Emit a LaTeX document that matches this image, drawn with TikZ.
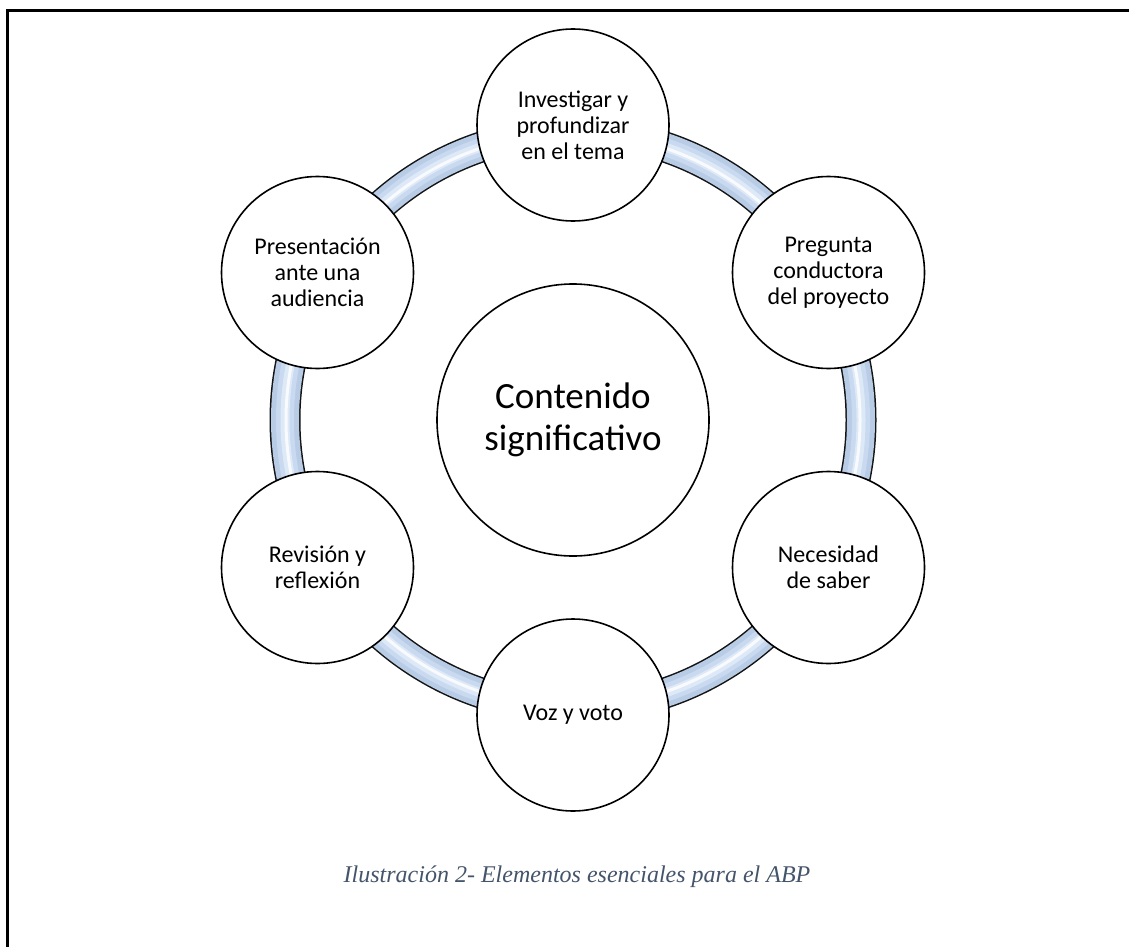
\documentclass[tikz,border=0pt]{standalone}
\usepackage{fontspec}
\setmainfont{Carlito}
\newfontfamily\capfont{Liberation Serif}
\begin{document}
\definecolor{bandedge}{RGB}{20,20,20}
\definecolor{bandA}{RGB}{184,204,230}
\definecolor{bandB}{RGB}{200,217,240}
\definecolor{bandC}{RGB}{222,233,248}
\definecolor{capcol}{RGB}{68,84,106}
\begin{tikzpicture}[x=1pt,y=-1pt,
  item/.style={circle,draw=black,line width=1.6pt,fill=white,minimum size=192pt,
    inner sep=0pt,align=center,font=\fontsize{24}{26}\selectfont},
  core/.style={circle,draw=black,line width=1.6pt,fill=white,minimum size=272pt,
    inner sep=0pt,align=center,font=\fontsize{37}{42}\selectfont}]
\useasboundingbox (0,0) rectangle (1129,947);
% page frame: top and left rules
\draw[line width=3pt] (1129,11) -- (7,11) -- (7,947);
% ring band behind the outer circles
\coordinate (c) at (573,420);
\draw[line width=31pt,bandedge] (c) circle[radius=288];
\draw[line width=28pt,bandA] (c) circle[radius=288];
\draw[line width=18pt,bandB] (c) circle[radius=288];
\draw[line width=9pt,bandC] (c) circle[radius=288];
\draw[line width=3pt,white,opacity=0.8] (c) circle[radius=287];
% centre
\node[core] (centro) at (c) {Contenido\\significativo};
% outer items
\node[item] (inv) at (573,125) {Investigar y\\profundizar\\en el tema};
\node[item] (preg) at (828.5,272.5) {Pregunta\\conductora\\del proyecto};
\node[item] (nec) at (828.5,567.5) {Necesidad\\de saber};
\node[item] (voz) at (573,715) {Voz y voto};
\node[item] (rev) at (317.5,567.5) {Revisión y\\reflexión};
\node[item] (pres) at (317.5,272.5) {Presentación\\ante una\\audiencia};
% caption
\node[font=\capfont\itshape\fontsize{24}{28}\selectfont,text=capcol] (cap) at (577,877)
  {Ilustración 2- Elementos esenciales para el ABP};
\end{tikzpicture}
\end{document}
